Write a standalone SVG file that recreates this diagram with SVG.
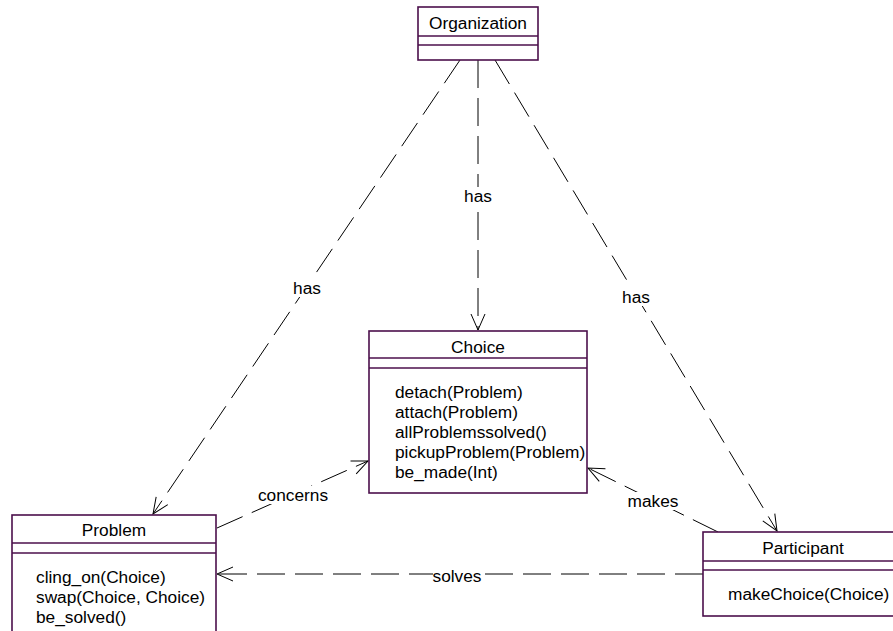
<svg xmlns="http://www.w3.org/2000/svg" width="893" height="631" viewBox="0 0 893 631">
  <style>
    .box { fill: #ffffff; stroke: #4b0f4b; stroke-width: 1.6; }
    .div { stroke: #4b0f4b; stroke-width: 1.4; }
    .name { font-family: "Liberation Sans", Arial, sans-serif; font-size: 17.3px; fill: #000; text-anchor: middle; }
    .op { font-family: "Liberation Sans", Arial, sans-serif; font-size: 17.3px; fill: #000; }
    .dep { fill: none; stroke: #000; stroke-width: 1; stroke-dasharray: 28 10; }
    .lbl { font-family: "Liberation Sans", Arial, sans-serif; font-size: 17.3px; fill: #000; text-anchor: middle; }
    .lblbg { fill: #ffffff; }
  </style>
  <defs>
    <marker id="open" viewBox="-18 -10 20 20" refX="0" refY="0" markerWidth="20" markerHeight="20" markerUnits="userSpaceOnUse" orient="auto">
      <path d="M-16,-7 L0,0 L-16,7" fill="none" stroke="#000" stroke-width="1" stroke-dasharray="none"/>
    </marker>
  </defs>

  <rect width="893" height="631" fill="#ffffff"/>

  <!-- dependency connectors with their labels -->
  <g id="connectors">
    <path class="dep" d="M460,60 L153,514" marker-end="url(#open)"/>
    <path class="dep" d="M478,60 L478,330" marker-end="url(#open)"/>
    <path class="dep" d="M495,60 L777,531" marker-end="url(#open)"/>
    <path class="dep" d="M217,528 L368,461" marker-end="url(#open)"/>
    <path class="dep" d="M718,532 L588,468" marker-end="url(#open)"/>
    <path class="dep" d="M703,574 L217,574" marker-end="url(#open)"/>

    <rect class="lblbg" x="293" y="279" width="28" height="18"/>
    <text class="lbl" x="307" y="294">has</text>
    <rect class="lblbg" x="464" y="187" width="28" height="18"/>
    <text class="lbl" x="478" y="202">has</text>
    <rect class="lblbg" x="622" y="288" width="28" height="18"/>
    <text class="lbl" x="636" y="303">has</text>
    <rect class="lblbg" x="258" y="486" width="70" height="18"/>
    <text class="lbl" x="293" y="501">concerns</text>
    <rect class="lblbg" x="628" y="492" width="50" height="18"/>
    <text class="lbl" x="653" y="507">makes</text>
    <rect class="lblbg" x="433" y="566" width="48" height="17"/>
    <text class="lbl" x="457" y="582">solves</text>
  </g>

  <g id="organization">
    <rect class="box" x="418" y="7" width="120" height="53"/>
    <line class="div" x1="418" y1="36" x2="538" y2="36"/>
    <line class="div" x1="418" y1="45" x2="538" y2="45"/>
    <text class="name" x="478" y="29">Organization</text>
  </g>

  <g id="choice">
    <rect class="box" x="369" y="331" width="218" height="162"/>
    <line class="div" x1="369" y1="358" x2="587" y2="358"/>
    <line class="div" x1="369" y1="368" x2="587" y2="368"/>
    <text class="name" x="478" y="353">Choice</text>
    <text class="op" x="395" y="398">detach(Problem)</text>
    <text class="op" x="395" y="418">attach(Problem)</text>
    <text class="op" x="395" y="438">allProblemssolved()</text>
    <text class="op" x="395" y="458">pickupProblem(Problem)</text>
    <text class="op" x="395" y="478">be_made(Int)</text>
  </g>

  <g id="problem">
    <rect class="box" x="12" y="515" width="204" height="130"/>
    <line class="div" x1="12" y1="543" x2="216" y2="543"/>
    <line class="div" x1="12" y1="553" x2="216" y2="553"/>
    <text class="name" x="114" y="536">Problem</text>
    <text class="op" x="36" y="583">cling_on(Choice)</text>
    <text class="op" x="36" y="603">swap(Choice, Choice)</text>
    <text class="op" x="36" y="623">be_solved()</text>
  </g>

  <g id="participant">
    <rect class="box" x="703" y="532" width="200" height="84"/>
    <line class="div" x1="703" y1="561" x2="903" y2="561"/>
    <line class="div" x1="703" y1="570" x2="903" y2="570"/>
    <text class="name" x="803" y="554">Participant</text>
    <text class="op" x="728" y="600">makeChoice(Choice)</text>
  </g>
</svg>
